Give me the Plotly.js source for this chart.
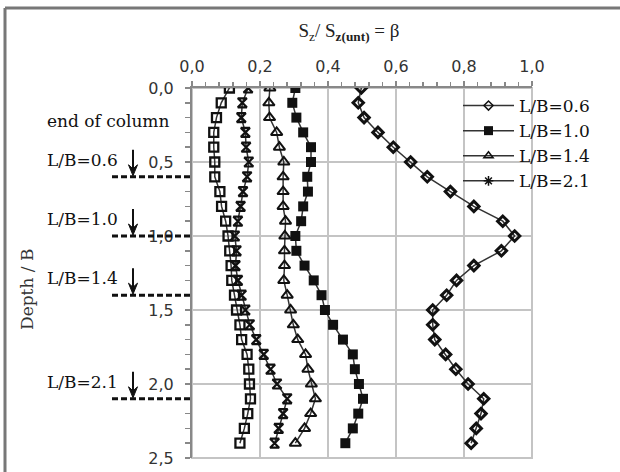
<!DOCTYPE html>
<html>
<head>
<meta charset="utf-8">
<script src="https://cdn.plot.ly/plotly-3.0.1.min.js"></script>
<style>html,body{margin:0;padding:0;background:#fff;}#chart{width:620px;height:472px;}</style>
</head>
<body>
<div id="chart"></div>
<script>
// Depth / B at which values were measured
const depth = [0.0,0.1,0.2,0.3,0.4,0.5,0.6,0.7,0.8,0.9,1.0,1.1,1.2,1.3,1.4,1.5,1.6,1.7,1.8,1.9,2.0,2.1,2.2,2.3,2.4];
// beta = Sz / Sz(unt)
const betaOpenSq = [0.110,0.086,0.072,0.064,0.064,0.067,0.067,0.082,0.087,0.099,0.106,0.111,0.115,0.117,0.125,0.131,0.141,0.146,0.162,0.167,0.169,0.172,0.164,0.154,0.141];
const beta06 = [0.498,0.489,0.506,0.547,0.592,0.643,0.692,0.760,0.829,0.914,0.949,0.910,0.829,0.778,0.749,0.708,0.708,0.714,0.746,0.776,0.812,0.858,0.850,0.836,0.821];
const beta10 = [0.304,0.295,0.307,0.327,0.350,0.350,0.339,0.341,0.327,0.321,0.304,0.307,0.331,0.358,0.381,0.391,0.415,0.444,0.473,0.479,0.491,0.503,0.489,0.473,0.451];
const beta14 = [0.229,0.226,0.228,0.249,0.257,0.270,0.268,0.268,0.268,0.275,0.273,0.272,0.272,0.270,0.280,0.290,0.298,0.311,0.334,0.341,0.351,0.363,0.349,0.331,0.304];
const beta21 = [0.165,0.148,0.145,0.157,0.159,0.167,0.162,0.150,0.143,0.135,0.126,0.131,0.128,0.135,0.146,0.157,0.170,0.189,0.211,0.231,0.250,0.280,0.268,0.255,0.243];
const seriesNames = ['L/B=0.6','L/B=1.0','L/B=1.4','L/B=2.1'];
// end-of-column depths and labels
const endLabels = ['L/B=0.6','L/B=1.0','L/B=1.4','L/B=2.1'];
const endDepths = [0.6, 1.0, 1.4, 2.1];
const xTickVals = [0,0.2,0.4,0.6,0.8,1.0];
const yTickVals = [0,0.5,1.0,1.5,2.0,2.5];

const lineStyle = {color:'#333', width:1.5};
const mk = (symbol, size, width) => ({symbol:symbol, size:size, color:'#111', line:{width:width, color:'#111'}});
const traces = [
  {x: betaOpenSq, y: depth, mode:'lines+markers', showlegend:false, line: lineStyle, marker: mk('square-open', 9, 2.3)},
  {x: beta06, y: depth, mode:'lines+markers', showlegend:false, line: lineStyle, marker: mk('diamond-open', 8, 3)},
  {x: beta10, y: depth, mode:'lines+markers', showlegend:false, line: lineStyle, marker: {symbol:'square', size:10, color:'#111', line:{width:0}}},
  {x: beta14, y: depth, mode:'lines+markers', showlegend:false, line: lineStyle, marker: mk('triangle-up-open', 10, 2)},
  {x: beta21, y: depth, mode:'lines+markers', showlegend:false, line: lineStyle, marker: mk('hourglass-open', 9, 2.2)},
  // legend entries (legend symbols are drawn smaller in the reference)
  {x:[null], y:[null], name: seriesNames[0], mode:'lines+markers', line: lineStyle, marker: mk('diamond-open', 7, 1.5)},
  {x:[null], y:[null], name: seriesNames[1], mode:'lines+markers', line: lineStyle, marker: {symbol:'square', size:9, color:'#111', line:{width:0}}},
  {x:[null], y:[null], name: seriesNames[2], mode:'lines+markers', line: lineStyle, marker: mk('triangle-up-open', 8, 1.5)},
  {x:[null], y:[null], name: seriesNames[3], mode:'lines+markers', line: lineStyle, marker: mk('asterisk-open', 8, 1.5)}
];

// layout geometry helpers (pixels -> paper)
const L = 192, T = 88, W = 340, H = 370;
const px = v => (v - L) / W;
const py = v => (T + H - v) / H;
const dpy = d => 1 - d / 2.5;

const serif = 'DejaVu Serif, serif';
const sans = 'DejaVu Sans, sans-serif';

const shapes = [
  {type:'rect', xref:'paper', yref:'paper', x0:0, x1:1, y0:0, y1:1, layer:'below', line:{color:'#c4c4c4', width:2}},
  {type:'line', xref:'paper', yref:'paper', x0:px(5), x1:px(620), y0:py(8), y1:py(8), line:{color:'#777', width:3}},
  {type:'line', xref:'paper', yref:'paper', x0:px(5), x1:px(5), y0:py(8), y1:py(472), line:{color:'#777', width:3}}
];
const annotations = [
  {xref:'paper', yref:'paper', x:px(45), y:py(121), xanchor:'left', yanchor:'middle', text:'end of column', showarrow:false, font:{family:serif, size:17, color:'#111'}}
];
const ax = px(133);
endDepths.forEach((d, i) => {
  const yLine = dpy(d);
  shapes.push({type:'line', xref:'paper', yref:'paper', x0:px(112), x1:0, y0:yLine, y1:yLine, line:{color:'#111', width:3, dash:'6px,3px'}});
  // arrow: shaft + head pointing down to the dashed line
  shapes.push({type:'line', xref:'paper', yref:'paper', x0:ax, x1:ax, y0:yLine + 27/H, y1:yLine + 8/H, line:{color:'#111', width:2}});
  shapes.push({type:'path', xref:'paper', yref:'paper',
    path:'M' + px(128.5) + ',' + (yLine + 12/H) + ' L' + ax + ',' + (yLine + 1/H) + ' L' + px(137.5) + ',' + (yLine + 12/H) + ' L' + ax + ',' + (yLine + 8/H) + ' Z',
    fillcolor:'#111', line:{color:'#111', width:1}});
  annotations.push({xref:'paper', yref:'paper', x:px(45), y:yLine + 17/H, xanchor:'left', yanchor:'middle', text:endLabels[i], showarrow:false, font:{family:serif, size:17, color:'#111'}});
});
annotations.push({xref:'paper', yref:'paper', x:px(27), y:py(290), text:'Depth / B', textangle:-90, showarrow:false, xanchor:'center', yanchor:'middle', font:{family:serif, size:17, color:'#333'}});

const layout = {
  width:620, height:472,
  margin:{l:L, r:620-L-W, t:T, b:472-T-H, pad:0},
  paper_bgcolor:'#fff', plot_bgcolor:'#fff',
  separators:',.',
  title:{text:'S<sub>z</sub>/ S<sub><b>z(unt)</b></sub> = β', x:349/620, xanchor:'center', xref:'container', y:1-30/472, yref:'container', yanchor:'middle', font:{family:'Liberation Serif, serif', size:19, color:'#222'}},
  xaxis:{range:[0,1], side:'top', tickvals:xTickVals, tickformat:'.1f', showgrid:true, gridcolor:'#c4c4c4', gridwidth:2,
    showline:true, linecolor:'#888', linewidth:2, ticks:'outside', ticklen:5, tickcolor:'#888', tickwidth:1.5, zeroline:false,
    minor:{dtick:0.04, ticks:'outside', ticklen:4, tickcolor:'#888', tickwidth:1.5, showgrid:false},
    tickfont:{family:sans, size:16, color:'#333'}, ticklabelstandoff:3, fixedrange:true},
  yaxis:{range:[2.5,0], tickvals:yTickVals, tickformat:'.1f', showgrid:true, gridcolor:'#c4c4c4', gridwidth:2,
    showline:true, linecolor:'#888', linewidth:2, ticks:'outside', ticklen:5, tickcolor:'#888', tickwidth:1.5, zeroline:false,
    minor:{dtick:0.1, ticks:'outside', ticklen:5, tickcolor:'#888', tickwidth:1.5, showgrid:false},
    tickfont:{family:sans, size:16, color:'#333'}, ticklabelstandoff:8, fixedrange:true},
  legend:{x:px(458), y:py(88), xanchor:'left', yanchor:'top', bgcolor:'rgba(0,0,0,0)', borderwidth:0,
    font:{family:serif, size:17, color:'#111'}, itemwidth:51, tracegroupgap:0},
  shapes: shapes,
  annotations: annotations,
  showlegend:true
};
Plotly.newPlot('chart', traces, layout, {displayModeBar:false, staticPlot:true});
</script>
</body>
</html>
